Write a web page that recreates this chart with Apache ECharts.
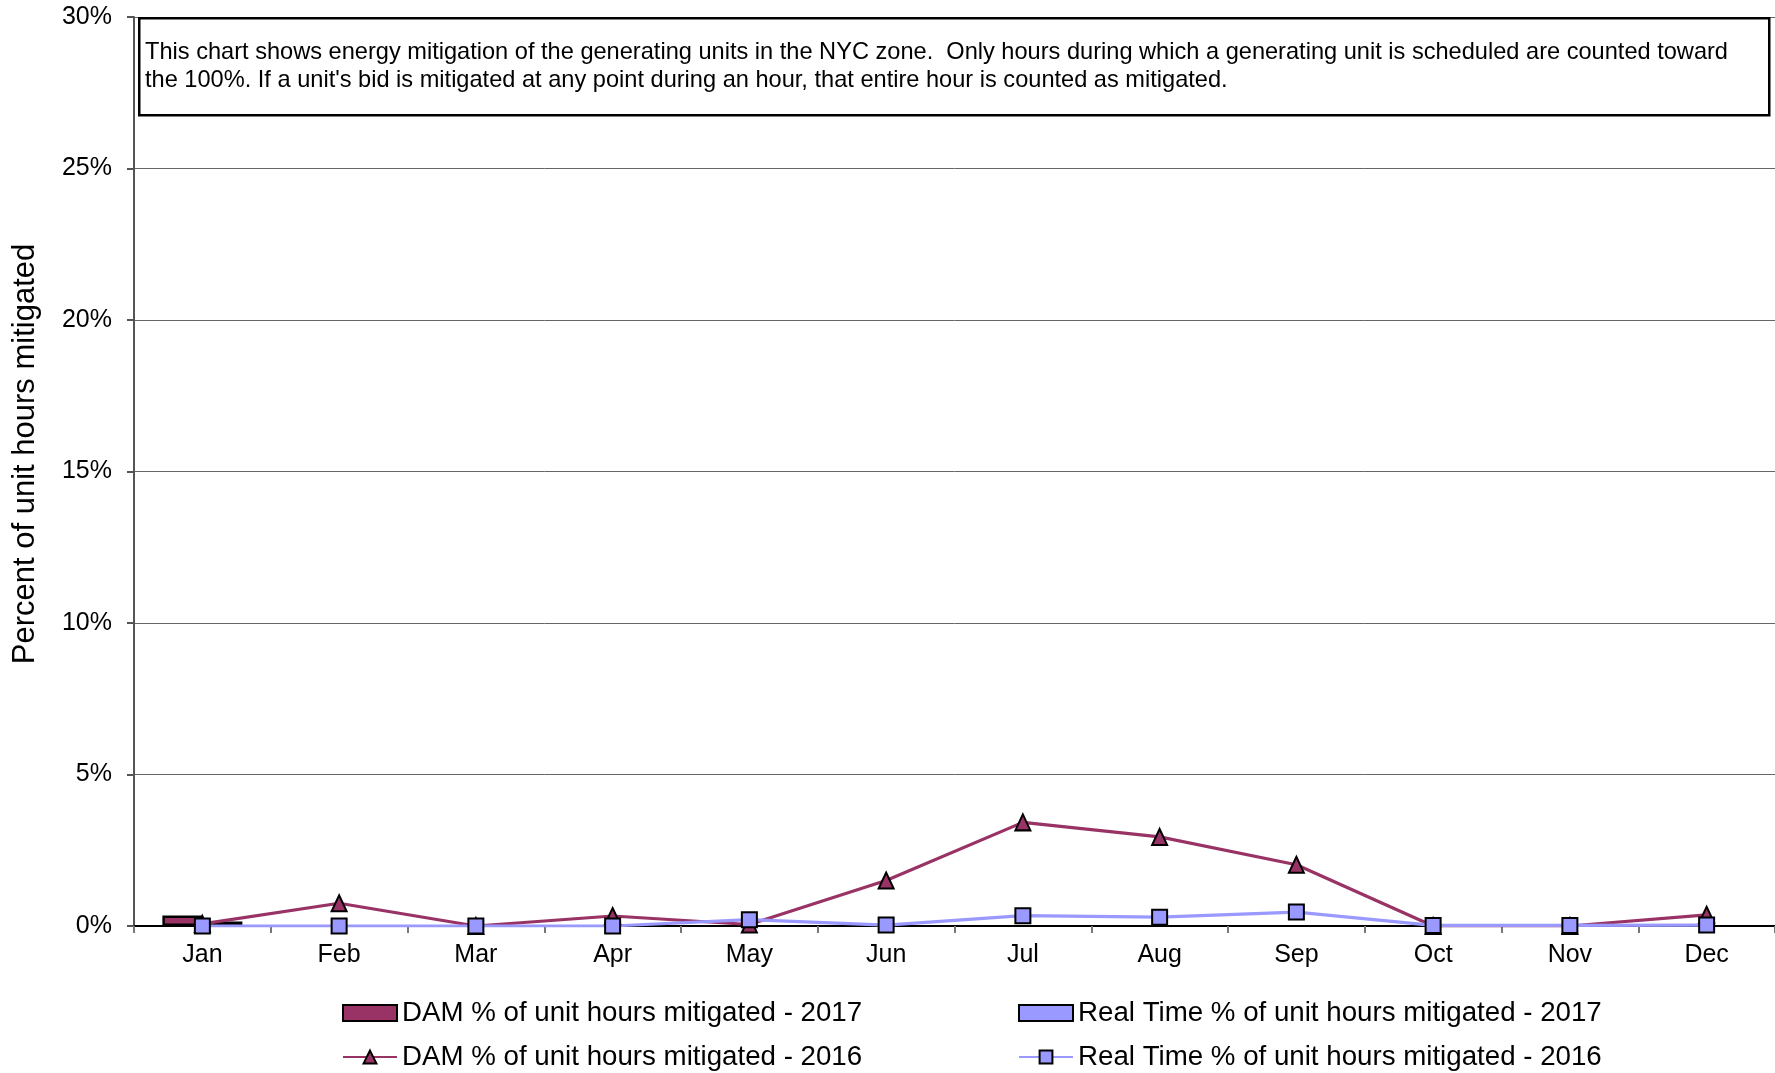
<!DOCTYPE html>
<html>
<head>
<meta charset="utf-8">
<script src="https://cdn.jsdelivr.net/npm/echarts@6/dist/echarts.min.js"></script>
<style>
  html, body { margin: 0; padding: 0; background: #fff; }
  #chart { width: 1775px; height: 1073px; }
</style>
</head>
<body>
<div id="chart"></div>
<script>
const months = ['Jan', 'Feb', 'Mar', 'Apr', 'May', 'Jun', 'Jul', 'Aug', 'Sep', 'Oct', 'Nov', 'Dec']
const yTicks = [0, 5, 10, 15, 20, 25, 30]
// percent values
const dam2017 = [0.35, null, null, null, null, null, null, null, null, null, null, null]
const rt2017 = [0.15, null, null, null, null, null, null, null, null, null, null, null]
const dam2016 = [0.07, 0.75, 0.0, 0.33, 0.05, 1.5, 3.42, 2.94, 2.02, 0.0, 0.0, 0.37]
const rt2016 = [0.0, 0.0, 0.0, 0.0, 0.21, 0.03, 0.34, 0.29, 0.46, 0.02, 0.02, 0.03]

const note = 'This chart shows energy mitigation of the generating units in the NYC zone.  Only hours during which a generating unit is scheduled are counted toward\n' +
  'the 100%. If a unit\'s bid is mitigated at any point during an hour, that entire hour is counted as mitigated.'

const damColor = '#993366'
const rtColor = '#9999FF'
const font = 'Liberation Sans, Arial, sans-serif'

const legendStyle = {
  orient: 'vertical', itemGap: 14, padding: 0, height: 120,
  itemWidth: 54, itemHeight: 16,
  textStyle: { fontSize: 27.7, lineHeight: 30, color: '#000', fontFamily: font }
}

const chart = echarts.init(document.getElementById('chart'))
const option = {
  animation: false,
  textStyle: { fontFamily: font },
  grid: { left: 134, top: 17, right: 0, bottom: 147 },
  legend: [
    Object.assign({
      left: 342, top: 998,
      data: [
        { name: 'DAM % of unit hours mitigated - 2017', icon: 'rect' },
        'DAM % of unit hours mitigated - 2016'
      ]
    }, legendStyle),
    Object.assign({
      left: 1018, top: 998,
      data: [
        { name: 'Real Time % of unit hours mitigated - 2017', icon: 'rect' },
        'Real Time % of unit hours mitigated - 2016'
      ]
    }, legendStyle)
  ],
  xAxis: {
    type: 'category',
    data: months,
    boundaryGap: true,
    axisLine: { lineStyle: { color: '#000', width: 2 } },
    axisTick: { show: true, length: 7, lineStyle: { color: '#777', width: 2 } },
    axisLabel: { fontSize: 25, color: '#000', margin: 17 }
  },
  yAxis: {
    type: 'value',
    min: 0, max: 30, interval: 5,
    axisLine: { show: true, lineStyle: { color: '#555', width: 2 } },
    axisTick: { show: true, length: 7, lineStyle: { color: '#555', width: 2 } },
    axisLabel: {
      fontSize: 25, color: '#000', margin: 22,
      formatter: v => yTicks.indexOf(v) >= 0 ? v + '%' : ''
    },
    splitLine: { lineStyle: { color: '#666', width: 1 } }
  },
  graphic: [
    {
      type: 'text', x: 25, y: 454, rotation: Math.PI / 2,
      style: {
        text: 'Percent of unit hours mitigated', fontSize: 31, fill: '#000', fontFamily: font,
        textAlign: 'center', textVerticalAlign: 'middle'
      }
    },
    {
      type: 'rect', left: 138, top: 17, z: 10,
      shape: { width: 1630, height: 97 },
      style: { fill: '#fff', stroke: '#000', lineWidth: 2.5 }
    },
    {
      type: 'text', left: 145, top: 38, z: 11,
      style: { text: note, fontSize: 23.6, lineHeight: 28, fill: '#000', fontFamily: font }
    }
  ],
  series: [
    {
      name: 'DAM % of unit hours mitigated - 2017',
      type: 'bar', data: dam2017, barWidth: 40, barGap: '0%',
      itemStyle: { color: damColor, borderColor: '#000', borderWidth: 2.5 }
    },
    {
      name: 'Real Time % of unit hours mitigated - 2017',
      type: 'bar', data: rt2017, barWidth: 40, barGap: '0%',
      itemStyle: { color: rtColor, borderColor: '#000', borderWidth: 2.5 }
    },
    {
      name: 'DAM % of unit hours mitigated - 2016',
      type: 'line', data: dam2016,
      symbol: 'triangle', symbolSize: [15, 16],
      lineStyle: { color: damColor, width: 3.2 },
      itemStyle: { color: damColor, borderColor: '#000', borderWidth: 2 }
    },
    {
      name: 'Real Time % of unit hours mitigated - 2016',
      type: 'line', data: rt2016,
      symbol: 'rect', symbolSize: 15,
      lineStyle: { color: rtColor, width: 3.2 },
      itemStyle: { color: rtColor, borderColor: '#000', borderWidth: 2 }
    }
  ]
}
chart.setOption(option)
</script>
</body>
</html>
